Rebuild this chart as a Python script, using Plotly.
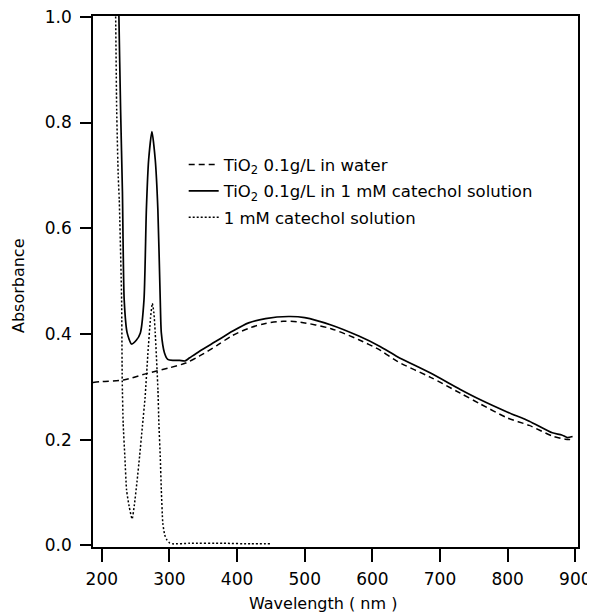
import plotly.graph_objects as go

# TiO2 0.1 g/L in water (dashed)
wl_water = [187, 200, 232, 266, 300, 324, 344, 370, 393, 420, 442, 468, 490, 539, 580, 612, 637, 686, 730, 759, 800, 832, 866, 885, 896]
abs_water = [0.308, 0.310, 0.313, 0.325, 0.336, 0.345, 0.358, 0.378, 0.397, 0.412, 0.420, 0.424, 0.423, 0.410, 0.389, 0.369, 0.348, 0.318, 0.288, 0.268, 0.241, 0.227, 0.207, 0.201, 0.200]

# TiO2 0.1 g/L in 1 mM catechol solution (solid)
wl_mix = [200, 215, 222, 225.3, 227.8, 230.5, 233.1, 237.5, 244, 251, 257, 262.4, 265.9, 269.3, 274.1, 279, 282.9, 286.4, 288, 292.7, 297.5, 305, 315, 323, 330, 344, 370, 393, 417, 442, 476, 500, 539, 580, 612, 637, 686, 730, 759, 800, 832, 866, 880, 888, 896]
abs_mix = [2.2, 1.7, 1.25, 1.0, 0.824, 0.67, 0.465, 0.402, 0.381, 0.388, 0.402, 0.465, 0.635, 0.73, 0.783, 0.73, 0.635, 0.465, 0.402, 0.364, 0.352, 0.350, 0.350, 0.349, 0.355, 0.367, 0.387, 0.405, 0.421, 0.429, 0.433, 0.431, 0.417, 0.396, 0.376, 0.357, 0.326, 0.295, 0.276, 0.252, 0.235, 0.213, 0.209, 0.204, 0.206]

# 1 mM catechol solution (dotted)
wl_cat = [200, 212, 218, 220.5, 222, 224.3, 225.8, 229.3, 230.2, 231.6, 234.1, 236.6, 240.4, 244.8, 248, 252, 256, 260, 264, 268, 272, 274.7, 277, 279, 283, 284.4, 286.4, 288, 290.2, 293, 296, 300, 305, 330, 380, 420, 450]
abs_cat = [2.4, 1.8, 1.25, 1.0, 0.824, 0.698, 0.654, 0.465, 0.313, 0.231, 0.168, 0.105, 0.074, 0.050, 0.075, 0.12, 0.17, 0.225, 0.28, 0.36, 0.43, 0.458, 0.44, 0.402, 0.294, 0.231, 0.168, 0.105, 0.042, 0.020, 0.011, 0.005, 0.003, 0.004, 0.004, 0.003, 0.003]

x_ticks = [200, 300, 400, 500, 600, 700, 800, 900]
y_ticks = [0.0, 0.2, 0.4, 0.6, 0.8, 1.0]

names = ["TiO<sub>2</sub> 0.1g/L in water",
         "TiO<sub>2</sub> 0.1g/L in 1 mM catechol solution",
         "1 mM catechol solution"]
x_title = "Wavelength ( nm )"
y_title = "Absorbance"

FAM = "DejaVu Sans, Verdana, sans-serif"

fig = go.Figure()
fig.add_trace(go.Scatter(x=wl_water, y=abs_water, mode="lines", name=names[0], legendgroup="a",
                         line=dict(color="black", width=1.5, dash="6px,4px", shape="spline", smoothing=0.8)))
fig.add_trace(go.Scatter(x=wl_mix, y=abs_mix, mode="lines", name=names[1], legendgroup="b",
                         line=dict(color="black", width=1.7, shape="spline", smoothing=0.6)))
fig.add_trace(go.Scatter(x=wl_cat, y=abs_cat, mode="lines", name=names[2], legendgroup="c",
                         line=dict(color="black", width=1.5, dash="2px,2px", shape="spline", smoothing=0.5)))

tick_font = dict(family=FAM, size=17, color="black")
title_font = dict(family=FAM, size=16, color="black")

fig.update_layout(
    width=587, height=606,
    margin=dict(l=85, r=17, t=8, b=67, autoexpand=False),
    paper_bgcolor="white", plot_bgcolor="white",
    font=tick_font,
    showlegend=True,
    legend=dict(x=0.187, y=0.753, xanchor="left", yanchor="top",
                font=dict(family=FAM, size=16.5, color="black"),
                bgcolor="rgba(0,0,0,0)", tracegroupgap=2, traceorder="grouped"),
    annotations=[
        dict(text=x_title, xref="paper", yref="paper", x=0.4745, y=-0.1055,
             xanchor="center", yanchor="middle", showarrow=False, font=title_font),
        dict(text=y_title, xref="paper", yref="paper", x=-0.155, y=0.493, textangle=-90,
             xanchor="center", yanchor="middle", showarrow=False, font=title_font),
    ],
)
fig.update_xaxes(range=[187, 904], tickvals=x_ticks, ticktext=[str(v) for v in x_ticks],
                 ticks="outside", ticklen=13, tickwidth=1.5, tickcolor="black",
                 tickfont=tick_font, ticklabelstandoff=3, automargin=False,
                 ticklabeloverflow="allow",
                 showline=True, linecolor="black", linewidth=1.5, mirror=True,
                 showgrid=False, zeroline=False)
fig.update_yaxes(range=[-0.003, 1.0015], tickvals=y_ticks, ticktext=[f"{v:.1f}" for v in y_ticks],
                 ticks="outside", ticklen=11, tickwidth=1.5, tickcolor="black",
                 tickfont=tick_font, ticklabelstandoff=5, automargin=False,
                 ticklabeloverflow="allow",
                 showline=True, linecolor="black", linewidth=1.5, mirror=True,
                 showgrid=False, zeroline=False)

fig.write_html("out.html")
